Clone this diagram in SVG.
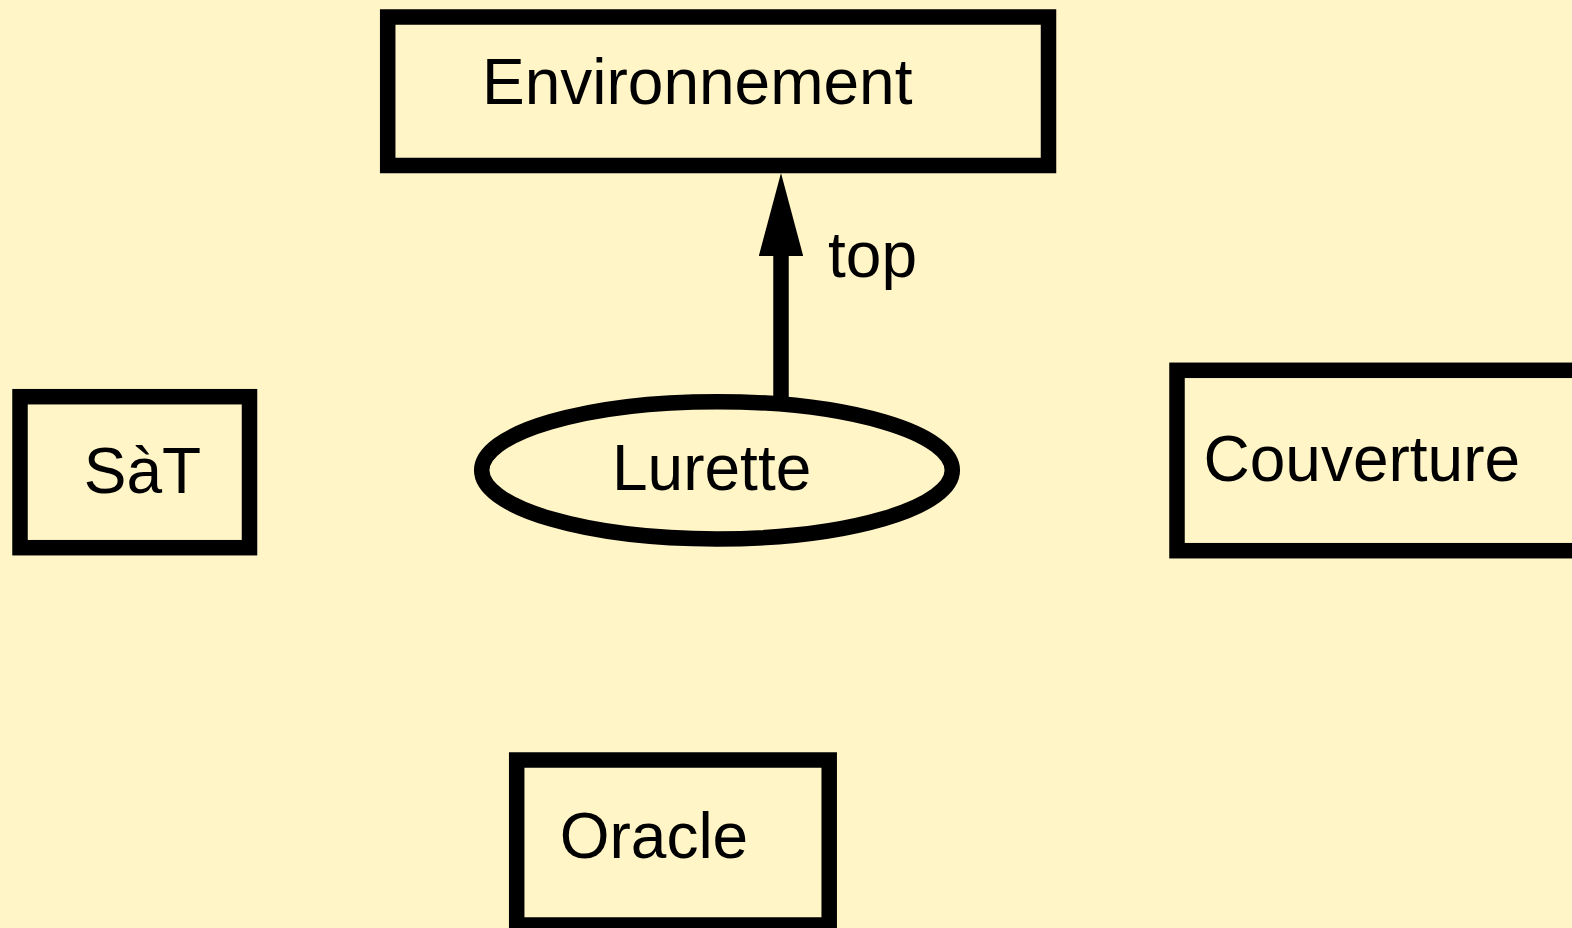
<svg xmlns="http://www.w3.org/2000/svg" width="1572" height="928" viewBox="0 0 1572 928">
  <defs>
    <style>
      .node { fill: #FFF5C6; stroke: #000; stroke-width: 15.5; }
      .label { font-family: "Liberation Sans", Arial, sans-serif; font-size: 64px; fill: #000; }
      .edge { fill: none; stroke: #000; stroke-width: 15.5; stroke-linecap: butt; }
    </style>
    <marker id="arrow" viewBox="0 0 83 44.4" refX="0" refY="22.2" markerWidth="83" markerHeight="44.4" markerUnits="userSpaceOnUse" orient="auto">
      <path d="M0,0 L83,22.2 L0,44.4 z" fill="#000"/>
    </marker>
  </defs>

  <rect x="0" y="0" width="1572" height="928" fill="#FFF5C6"/>

  <g id="connectors">
    <line class="edge" x1="781" y1="400" x2="781" y2="256" marker-end="url(#arrow)"/>
    <text class="label" x="828" y="276.7">top</text>
  </g>

  <g id="node-environnement">
    <rect class="node" x="387.7" y="17" width="660.8" height="148.5"/>
    <text class="label" x="482" y="104">Environnement</text>
  </g>

  <g id="node-sat">
    <rect class="node" x="20" y="396.7" width="229.5" height="151"/>
    <text class="label" x="83.7" y="493.3">SàT</text>
  </g>

  <g id="node-lurette">
    <ellipse class="node" cx="717" cy="470.3" rx="235.3" ry="68.6"/>
    <text class="label" x="612" y="490">Lurette</text>
  </g>

  <g id="node-couverture">
    <rect class="node" x="1177" y="370.3" width="430" height="180.4"/>
    <text class="label" x="1203.5" y="481">Couverture</text>
  </g>

  <g id="node-oracle">
    <rect class="node" x="516.7" y="760" width="312.5" height="165"/>
    <text class="label" x="559.7" y="857.7">Oracle</text>
  </g>
</svg>
